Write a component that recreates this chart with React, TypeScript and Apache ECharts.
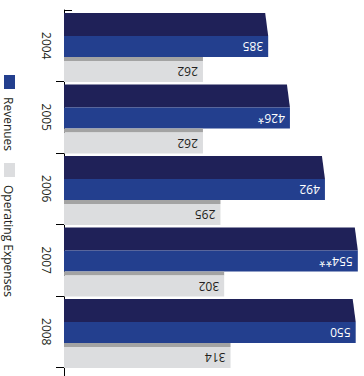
import React, { useEffect, useRef } from "react";
import * as echarts from "echarts";

// Fiscal years and the two reported figures per year
const years = ["2004", "2005", "2006", "2007", "2008"];
const revenues = [385, 426, 492, 554, 550];
const revenueNotes = ["", "*", "", "**", ""];
const operatingExpenses = [262, 262, 295, 302, 314];
const seriesNames = ["Revenues", "Operating Expenses"];

const FONT = "'Open Sans', 'Noto Sans', sans-serif";
const TEXT_DARK = "#231f20";
const NAVY = "#1f2158";
const BLUE = "#233f8e";
const GRAY_EDGE = "#a3a3a3";
const GRAY = "#dcdddf";

export default function App() {
  const ref = useRef<HTMLDivElement>(null);

  useEffect(() => {
    if (!ref.current) return;
    const chart = echarts.init(ref.current, null, { renderer: "svg" });

    // Revenue bar: dark top face with a slanted end, blue front face, value label
    const renderRevenue = (params: any, api: any) => {
      const i = api.value(1);
      const v = api.value(0);
      const base = api.coord([0, i]);
      const end = api.coord([v, i]);
      const band = api.size([0, 1])[1];
      const top = base[1] - band / 2;
      const x0 = base[0];
      const x1 = end[0];
      const label = String(revenues[params.dataIndex]) + revenueNotes[params.dataIndex];
      return {
        type: "group",
        children: [
          {
            type: "polygon",
            shape: {
              points: [
                [x0, top + 3],
                [x1 - 3, top + 3],
                [x1, top + 26],
                [x0, top + 26],
              ],
            },
            style: { fill: NAVY },
          },
          {
            type: "rect",
            shape: { x: x0, y: top + 26, width: x1 - x0, height: 21 },
            style: { fill: BLUE },
          },
          {
            type: "text",
            x: x1 - 5,
            y: top + 36.5,
            rotation: Math.PI,
            style: {
              text: label,
              fill: "#ffffff",
              font: `12px ${FONT}`,
              align: "left",
              verticalAlign: "middle",
            },
          },
        ],
      };
    };

    // Expense bar: thin shaded edge above a light grey face, value label
    const renderExpense = (params: any, api: any) => {
      const i = api.value(1);
      const v = api.value(0);
      const base = api.coord([0, i]);
      const end = api.coord([v, i]);
      const band = api.size([0, 1])[1];
      const top = base[1] - band / 2;
      const x0 = base[0];
      const x1 = end[0];
      return {
        type: "group",
        children: [
          {
            type: "rect",
            shape: { x: x0, y: top + 47, width: x1 - x0, height: 4 },
            style: { fill: GRAY_EDGE },
          },
          {
            type: "rect",
            shape: { x: x0, y: top + 51, width: x1 - x0, height: 21 },
            style: { fill: GRAY },
          },
          {
            type: "text",
            x: x1 - 5,
            y: top + 61.5,
            rotation: Math.PI,
            style: {
              text: String(operatingExpenses[params.dataIndex]),
              fill: TEXT_DARK,
              font: `12px ${FONT}`,
              align: "left",
              verticalAlign: "middle",
            },
          },
        ],
      };
    };

    // Vertical legend on the left edge
    const legendItems = [
      { name: seriesNames[0], color: BLUE, y: 75 },
      { name: seriesNames[1], color: GRAY, y: 163 },
    ];
    const legendGraphics: any[] = [];
    legendItems.forEach((it) => {
      legendGraphics.push({
        type: "rect",
        shape: { x: 4, y: it.y, width: 11, height: 14 },
        style: { fill: it.color },
      });
      legendGraphics.push({
        type: "text",
        x: 8.5,
        y: it.y + 22,
        rotation: -Math.PI / 2,
        style: {
          text: it.name,
          fill: TEXT_DARK,
          font: `12px ${FONT}`,
          align: "left",
          verticalAlign: "middle",
        },
      });
    });

    chart.setOption({
      animation: false,
      grid: { left: 64, right: 3, top: 10, height: 357.5 },
      xAxis: {
        type: "value",
        min: 0,
        max: 560,
        show: false,
      },
      yAxis: {
        type: "category",
        data: years,
        inverse: true,
        axisLine: { show: true, lineStyle: { color: "#000", width: 1 } },
        axisTick: {
          show: true,
          length: 8,
          lineStyle: { color: "#000" },
          interval: (index: number) => index > 0,
        },
        axisLabel: {
          rotate: -90,
          margin: 12,
          color: TEXT_DARK,
          fontSize: 12,
          fontFamily: FONT,
        },
      },
      graphic: [
        {
          type: "line",
          shape: { x1: 64, y1: 10.5, x2: 72, y2: 10.5 },
          style: { stroke: "#000", lineWidth: 1 },
        },
        {
          type: "line",
          shape: { x1: 64.5, y1: 367, x2: 64.5, y2: 376 },
          style: { stroke: "#000", lineWidth: 1 },
        },
        ...legendGraphics,
      ],
      series: [
        {
          name: seriesNames[0],
          type: "custom",
          renderItem: renderRevenue,
          encode: { x: 0, y: 1 },
          data: revenues.map((v, i) => [v, i]),
          z: 2,
        },
        {
          name: seriesNames[1],
          type: "custom",
          renderItem: renderExpense,
          encode: { x: 0, y: 1 },
          data: operatingExpenses.map((v, i) => [v, i]),
          z: 3,
        },
      ],
    });

    return () => chart.dispose();
  }, []);

  return (
    <div
      ref={ref}
      style={{ position: "absolute", left: 0, top: 0, width: 364, height: 376 }}
    />
  );
}
